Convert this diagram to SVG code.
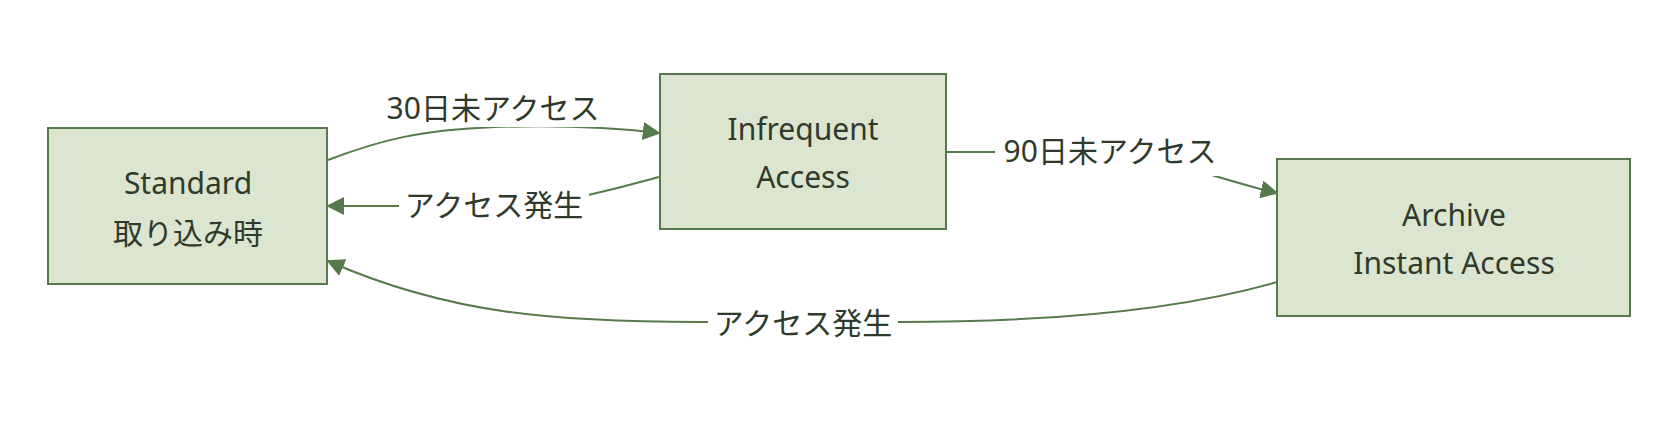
<svg xmlns="http://www.w3.org/2000/svg" width="1678" height="426" viewBox="0 0 1678 426">
<style>
.box{fill:#dce5d0;stroke:#567a4c;stroke-width:2}
.t{font-family:"Noto Sans","Noto Sans CJK JP",sans-serif;font-size:30px;fill:#2f3a2c;text-anchor:middle;dominant-baseline:central}
.c{fill:none;stroke:#567a4c;stroke-width:2}
.bg{fill:#fff}
</style>
<defs><marker id="a" viewBox="0 0 10 10" refX="9" refY="5" markerWidth="9" markerHeight="9" markerUnits="userSpaceOnUse" orient="auto"><path d="M0,0 L10,5 L0,10z" fill="#567a4c"/></marker>
<marker id="ar" viewBox="0 0 10 10" refX="9" refY="5" markerWidth="18" markerHeight="18" markerUnits="userSpaceOnUse" orient="auto"><path d="M0,0 L10,5 L0,10z" fill="#567a4c"/></marker></defs>
<g id="connectors">
<path class="c" marker-end="url(#ar)" d="M328,160 C380,140 420,130 495,127 C560,125 610,127 659,133"/>
<path class="c" marker-end="url(#ar)" d="M659,177 C620,187 560,206 495,206 L328,206"/>
<path class="c" marker-end="url(#ar)" d="M946,152 L1110,152 C1160,155 1220,180 1277,193"/>
<path class="c" marker-end="url(#ar)" d="M1277,282 C1180,310 1050,322 900,322 L700,322 C560,322 450,315 328,261"/>
<rect class="bg" x="378" y="89" width="230" height="38"/>
<text class="t" x="493" y="107">30日未アクセス</text>
<rect class="bg" x="399" y="187" width="190" height="36"/>
<text class="t" x="494" y="204">アクセス発生</text>
<rect class="bg" x="995" y="131" width="230" height="45"/>
<text class="t" x="1110" y="150">90日未アクセス</text>
<rect class="bg" x="708" y="304" width="190" height="36"/>
<text class="t" x="803" y="322">アクセス発生</text>
</g>
<g id="standard"><rect class="box" x="48" y="128" width="279" height="156"/>
<text class="t" x="188" y="182">Standard</text><text class="t" x="188" y="232">取り込み時</text></g>
<g id="infrequent"><rect class="box" x="660" y="74" width="286" height="155"/>
<text class="t" x="803" y="128">Infrequent</text><text class="t" x="803" y="176">Access</text></g>
<g id="archive"><rect class="box" x="1277" y="159" width="353" height="157"/>
<text class="t" x="1454" y="214">Archive</text><text class="t" x="1454" y="262">Instant Access</text></g>
</svg>
